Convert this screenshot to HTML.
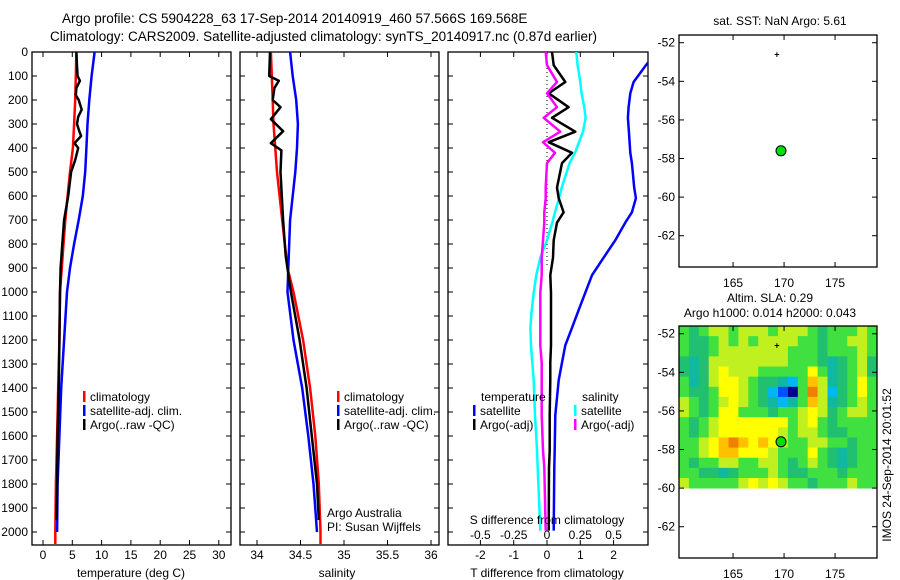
<!DOCTYPE html>
<html><head><meta charset="utf-8"><style>
body{margin:0;background:#fff}
svg{display:block;font-family:"Liberation Sans",sans-serif}
</style></head><body>
<svg id="c" width="900" height="580" xmlns="http://www.w3.org/2000/svg">
<text x="62" y="23" font-size="13.5">Argo profile: CS 5904228_63 17-Sep-2014 20140919_460 57.566S 169.568E</text>
<text x="50" y="41" font-size="13.5">Climatology: CARS2009. Satellite-adjusted climatology: synTS_20140917.nc (0.87d earlier)</text>
<g id="g"></g>
</svg>
<script>
// depth grids
const depthClim=[0,100,200,300,400,500,600,700,800,900,1000,1200,1400,1600,1800,2000,2050];
const climT=[5.7,5.6,5.5,5.3,5.1,4.6,4.2,3.8,3.5,3.2,2.9,2.8,2.6,2.4,2.2,2.1,2.1];
const depthSat=[0,100,200,300,400,500,600,700,800,900,1000,1200,1400,1600,1800,2000];
const satT=[8.8,8.3,7.9,7.6,7.4,7.2,6.8,6.1,5.3,4.6,4.1,3.6,3.1,2.8,2.5,2.4];
const depthArgo=[0,60,100,120,150,180,200,240,270,300,330,350,380,400,450,500,600,700,800,900,1000,1200,1400,1600,1800,1950];
const argoT=[5.7,5.8,5.9,6.3,5.7,5.6,6.1,6.6,6.0,5.8,6.2,6.5,5.4,6.0,5.5,4.8,4.3,3.6,3.3,3.0,2.9,2.8,2.7,2.5,2.4,2.3];
const climS=[34.16,34.17,34.18,34.19,34.21,34.23,34.26,34.29,34.32,34.35,34.42,34.53,34.61,34.67,34.71,34.73,34.73];
const satS=[34.38,34.41,34.45,34.47,34.46,34.44,34.41,34.38,34.37,34.36,34.35,34.42,34.52,34.59,34.65,34.69];
const depthArgoS=[0,100,120,150,200,230,280,330,380,410,500,700,850,1000,1200,1400,1600,1800,1950];
const argoS=[34.15,34.14,34.25,34.2,34.18,34.27,34.16,34.3,34.16,34.28,34.27,34.3,34.33,34.39,34.49,34.57,34.63,34.69,34.71];
// difference panel
const depthDiff=[0,55,125,172,230,274,332,376,420,463,565,609,668,711,784,857,930,1003,1076,1149,1222,1294,1367,1513,1659,1732,1994];
const satTdiff=[3.3,2.97,2.6,2.5,2.45,2.43,2.46,2.48,2.5,2.55,2.62,2.67,2.55,2.35,2.05,1.7,1.35,1.15,0.95,0.75,0.55,0.45,0.35,0.25,0.23,0.22,0.2];
const argoTdiff=[0.15,0.2,0.55,0.05,0.65,0.15,0.85,0.05,0.75,0.45,0.3,0.35,0.5,0.3,0.2,0.18,0.1,0.12,0.12,0.12,0.12,0.1,0.1,0.08,0.08,0.06,0.05];
const satSdiff=[0.22,0.23,0.25,0.26,0.28,0.29,0.27,0.24,0.21,0.17,0.11,0.09,0.06,0.04,0.0,-0.05,-0.08,-0.1,-0.115,-0.125,-0.12,-0.11,-0.1,-0.09,-0.075,-0.07,-0.05];
const argoSdiff=[-0.01,0.0,0.075,0.0,0.075,-0.025,0.1,-0.03,0.06,0.0,-0.01,-0.01,-0.02,-0.02,-0.03,-0.04,-0.04,-0.05,-0.05,-0.05,-0.05,-0.04,-0.04,-0.04,-0.03,-0.02,-0.01];
const depthTicks=[0,100,200,300,400,500,600,700,800,900,1000,1100,1200,1300,1400,1500,1600,1700,1800,1900,2000];
const tTicks=[0,5,10,15,20,25,30];
const sTicks=[34,34.5,35,35.5,36];
const dTTicks=[-2,-1,0,1,2];
const dSTicks=[-0.5,-0.25,0,0.25,0.5];
const lonTicks=[165,170,175];
const latTicks=[-52,-54,-56,-58,-60,-62];
const argoPos=[169.7,-57.6];
const starPos=[169.3,-52.55];
// SLA map grid (20 cols x 16 rows, lon 159.7..179.1, lat -51.6..-60)
const slaGrid=[
[1,0,1,2,2,1,2,2,2,1,2,2,2,1,0,1,1,1,2,1],
[1,0,0,1,2,1,2,1,2,2,2,2,1,1,0,1,1,2,2,1],
[1,0,0,1,2,2,2,2,2,2,2,1,1,1,0,1,1,1,2,1],
[0,-1,0,2,2,2,2,2,2,2,2,1,1,1,0,-1,0,1,2,0],
[0,-1,0,2,3,2,2,2,1,1,1,1,1,3,1,-1,0,1,2,0],
[1,-1,0,2,3,3,2,1,0,0,-1,-2,1,4,2,-1,0,1,3,1],
[1,0,0,1,3,3,2,1,0,-2,-3,-4,1,5,2,-2,0,1,3,1],
[2,1,0,1,2,3,2,1,0,-1,-2,-1,1,4,2,-1,0,1,2,1],
[2,1,0,1,3,3,1,1,1,0,1,1,2,3,2,0,1,2,2,1],
[1,0,1,2,3,3,3,3,3,3,3,1,2,3,1,0,1,1,1,1],
[1,0,1,2,3,3,3,3,3,3,2,1,2,2,1,0,0,1,1,1],
[1,1,2,3,4,5,4,3,4,3,2,1,1,2,2,1,1,0,1,1],
[1,1,2,3,4,4,3,3,3,2,1,1,1,3,1,0,-1,0,1,1],
[1,0,1,1,2,2,1,1,2,2,1,0,1,2,1,0,-1,0,1,1],
[1,1,0,0,-1,0,1,1,1,2,1,0,0,1,1,1,0,1,1,1],
[2,1,1,1,1,1,2,3,2,3,2,1,1,0,1,1,1,2,1,1]];

const NS='http://www.w3.org/2000/svg';
const G=document.getElementById('g');
function mk(tag,attrs,parent){const e=document.createElementNS(NS,tag);for(const k in attrs)e.setAttribute(k,attrs[k]);(parent||G).appendChild(e);return e;}
function txt(x,y,s,anchor,size){const t=mk('text',{x:x,y:y,'font-size':size||12,'text-anchor':anchor||'start'});t.textContent=s;return t;}
const yD=d=>52+d*0.24;
const PB=545;
const xT=v=>43+v*5.86, xS=v=>257+(v-34)*87, xDT=v=>547+v*33.3, xDS=v=>547+v*133.2;

function panel(x0,x1,name){
  const r=mk('rect',{x:x0,y:52,width:x1-x0,height:PB-52,fill:'none',stroke:'#000','stroke-width':1.3});
  
  
  depthTicks.forEach(d=>{const y=yD(d);mk('line',{x1:x0,x2:x0+5,y1:y,y2:y,stroke:'#000'});mk('line',{x1:x1-5,x2:x1,y1:y,y2:y,stroke:'#000'});});
}
function xticks(ticks,fx,labels,y){ticks.forEach((v,i)=>{const x=fx(v);mk('line',{x1:x,x2:x,y1:PB,y2:PB-5,stroke:'#000'});mk('line',{x1:x,x2:x,y1:52,y2:57,stroke:'#000'});if(labels){const t=txt(x,y,String(v),'middle');}});}
function line(depths,vals,fx,color,name,w){
  const pts=depths.map((d,i)=>fx(vals[i]).toFixed(1)+','+yD(d).toFixed(1)).join(' ');
  const p=mk('polyline',{points:pts,fill:'none',stroke:color,'stroke-width':w||2.5,'stroke-linejoin':'round'});
  
  
  return p;
}
const defs=mk('defs',{});
const cp=mk('clipPath',{id:'cp3'},defs);mk('rect',{x:448,y:52,width:200,height:PB-52},cp);

// Panel 1
panel(32,231,'temperature-panel');
depthTicks.forEach(d=>{const t=txt(28,yD(d)+4,String(d),'end');});
xticks(tTicks,xT,true,559);
line(depthClim,climT,xT,'#ff0000','temperature-climatology');
line(depthSat,satT,xT,'#0000ff','temperature-satellite-adj');
line(depthArgo,argoT,xT,'#000','temperature-argo');
let t=txt(131,577,'temperature (deg C)','middle');
// Panel 2
panel(240,439,'salinity-panel');
xticks(sTicks,xS,true,559);
line(depthClim,climS,xS,'#ff0000','salinity-climatology');
line(depthSat,satS,xS,'#0000ff','salinity-satellite-adj');
line(depthArgoS,argoS,xS,'#000','salinity-argo');
t=txt(337,577,'salinity','middle');
t=txt(327,517,'Argo Australia');
t=txt(327,531,'PI: Susan Wijffels');
function legend(x,y,items,name){const g=mk('g',{});items.forEach((it,i)=>{mk('rect',{x:x,y:y+i*14-10,width:2.5,height:11,fill:it[1]},g);const tt=txt(x+7,y+i*14,it[0]);g.appendChild(tt);});}
legend(83,401,[['climatology','#ff0000'],['satellite-adj. clim.','#0000ff'],['Argo(..raw -QC)','#000']],'temperature-legend');
legend(337,401,[['climatology','#ff0000'],['satellite-adj. clim.','#0000ff'],['Argo(..raw -QC)','#000']],'salinity-legend');
// Panel 3
panel(448,648,'difference-panel');
xticks(dTTicks,xDT,true,559);
const dl=mk('line',{x1:547,x2:547,y1:52,y2:yD(900),stroke:'#000','stroke-dasharray':'1,3'});
const g3=mk('g',{'clip-path':'url(#cp3)'});
[[satTdiff,xDT,'#0000ff','t-diff-satellite'],[satSdiff,xDS,'#00ffff','s-diff-satellite'],[argoTdiff,xDT,'#000','t-diff-argo'],[argoSdiff,xDS,'#ff00ff','s-diff-argo']].forEach(a=>{const p=line(depthDiff,a[0],a[1],a[2],a[3]);g3.appendChild(p);});
t=txt(547,577,'T difference from climatology','middle');
t=txt(547,524,'S difference from climatology','middle');
dSTicks.forEach(v=>{const tt=txt(xDS(v),539,String(v),'middle');});
t=txt(481,401,'temperature');
t=txt(582,401,'salinity');
legend(473,415,[['satellite','#0000ff'],['Argo(-adj)','#000']],'t-diff-legend');
legend(574,415,[['satellite','#00ffff'],['Argo(-adj)','#ff00ff']],'s-diff-legend');

// Maps
const mLon=v=>679+(v-159.7)*10.2;
function map(top,name,title1,title2){
  const my=v=>top+(-51.6-v)*19.3;
  if(name==='sla-map'){
    const rows=slaGrid.length, cols=slaGrid[0].length;
    const cw=198/cols, ch=(my(-60)-my(-51.6))/rows;
    const colors={'-4':'#000090','-3':'#0050ff','-2':'#00b8f0','-1':'#10b8a0','0':'#20c070','1':'#40e040','2':'#c0f020','3':'#ffff00','4':'#ffc000','5':'#f08000'};
    slaGrid.forEach((row,i)=>row.forEach((v,j)=>{const c=mk('rect',{x:(679+j*cw).toFixed(2),y:(my(-51.6)+i*ch).toFixed(2),width:(cw+0.4).toFixed(2),height:(ch+0.4).toFixed(2),fill:colors[String(v)]});
      
      }));
  }
  const r=mk('rect',{x:679,y:top,width:198,height:232,fill:'none',stroke:'#000','stroke-width':1.3});
  
  
  lonTicks.forEach(v=>{const x=mLon(v);mk('line',{x1:x,x2:x,y1:top,y2:top+5,stroke:'#000'});mk('line',{x1:x,x2:x,y1:top+232,y2:top+227,stroke:'#000'});const tt=txt(x,top+252,String(v),'middle');});
  latTicks.forEach(v=>{const y=my(v);mk('line',{x1:679,x2:684,y1:y,y2:y,stroke:'#000'});mk('line',{x1:872,x2:877,y1:y,y2:y,stroke:'#000'});const tt=txt(675,y+4,String(v),'end');});
  const s=txt(mLon(starPos[0]),my(starPos[1])+4,'+','middle',9);s.setAttribute('font-weight','bold');
  
  
  const c=mk('circle',{cx:mLon(argoPos[0]),cy:my(argoPos[1]),r:5,fill:'#00dd00',stroke:'#000','stroke-width':1});
  
  
  if(title2){let a=txt(770,302,title1,'middle');a=txt(770,317,title2,'middle');}
  else{const a=txt(780,25,title1,'middle');}
}
map(35,'sst-map','sat. SST: NaN Argo: 5.61');
map(326,'sla-map','Altim. SLA: 0.29','Argo h1000: 0.014 h2000: 0.043');
t=txt(0,0,'IMOS 24-Sep-2014 20:01:52','middle');t.setAttribute('transform','translate(891,465) rotate(-90)');


</script>
</body></html>
